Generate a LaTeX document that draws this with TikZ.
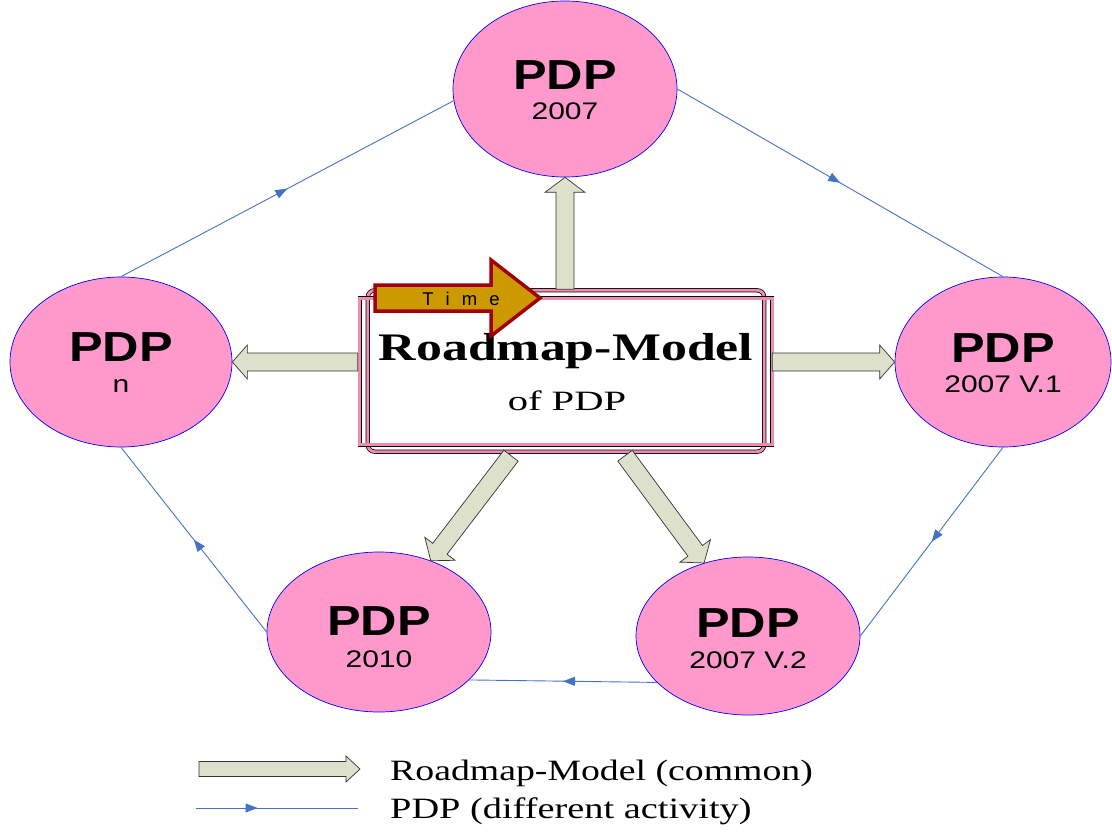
\documentclass[tikz,border=0pt]{standalone}
\usepackage{fontspec}
\setmainfont{Liberation Serif}
\setsansfont{Liberation Sans}
\usetikzlibrary{calc,arrows.meta,decorations.markings,shapes.geometric}
\definecolor{pdppink}{HTML}{FF99CC}
\definecolor{pdpblue}{HTML}{0000FF}
\definecolor{flowblue}{HTML}{4472C4}
\definecolor{blockfill}{HTML}{DDE0CA}
\definecolor{timefill}{HTML}{CC9900}
\definecolor{timedraw}{HTML}{A00000}
\definecolor{framepink}{HTML}{F08CB4}
% style, start, end, half body width, half head width, head length
\newcommand\blockarrow[6]{%
  \coordinate (bah) at ($(#3)!#6!(#2)$);
  \draw[#1] ($(#2)!#4!90:(#3)$) -- ($(bah)!#4!90:(#3)$) -- ($(bah)!#5!90:(#3)$)
     -- (#3) -- ($(bah)!#5!-90:(#3)$) -- ($(bah)!#4!-90:(#3)$)
     -- ($(#2)!#4!-90:(#3)$) -- cycle;}
\tikzset{
  pdp/.style={ellipse, fill=pdppink, draw=pdpblue, line width=0.7pt, inner sep=0pt},
  bigtxt/.style={anchor=base, inner sep=0pt, font=\sffamily\bfseries\fontsize{42}{42}\selectfont},
  smalltxt/.style={anchor=base, inner sep=0pt, font=\sffamily\fontsize{24}{24}\selectfont},
  flow/.style={draw=flowblue, color=flowblue, line width=0.9pt, postaction={decorate},
    decoration={markings, mark=at position #1 with {\arrow{Triangle[length=12pt,width=9pt]}}}},
  flow/.default=0.5,
  blk/.style={fill=blockfill, draw=black!80, line width=0.7pt, line join=miter},
  timearrow/.style={fill=timefill, draw=timedraw, line width=3.5pt, line join=miter},
  frame/.style={draw=black, line width=0.75pt, double=framepink, double distance=2.8pt},
  legendtxt/.style={anchor=base west, inner sep=0pt, font=\fontsize{29.5}{29.5}\selectfont}
}
\begin{document}
\begin{tikzpicture}[x=1pt,y=-1pt]
\useasboundingbox (0,0) rectangle (1112,832);
% ellipses
\node[pdp, minimum width=224pt, minimum height=176pt] (T) at (565,89) {};
\node[pdp, minimum width=222pt, minimum height=170pt] (L) at (121,362) {};
\node[pdp, minimum width=216pt, minimum height=170pt] (R) at (1003,362) {};
\node[pdp, minimum width=224pt, minimum height=160pt] (BL) at (379,632) {};
\node[pdp, minimum width=224pt, minimum height=158pt] (BR) at (748,636) {};
% ellipse texts
\node[bigtxt] (Tp) at ($(T.center)+(0,1)$) {\scalebox{1.2}[1]{PDP}};
\node[smalltxt] (Ts) at ($(T.center)+(0,31)$) {\scalebox{1.25}[1]{2007}};
\node[bigtxt] (Lp) at ($(L.center)+(0,-1)$) {\scalebox{1.2}[1]{PDP}};
\node[smalltxt] (Ls) at ($(L.center)+(0,30)$) {\scalebox{1.25}[1]{n}};
\node[bigtxt] (Rp) at ($(R.center)+(0,0)$) {\scalebox{1.2}[1]{PDP}};
\node[smalltxt] (Rs) at ($(R.center)+(0,30)$) {\scalebox{1.25}[1]{2007 V.1}};
\node[bigtxt] (BLp) at ($(BL.center)+(0,3)$) {\scalebox{1.2}[1]{PDP}};
\node[smalltxt] (BLs) at ($(BL.center)+(0,35)$) {\scalebox{1.25}[1]{2010}};
\node[bigtxt] (BRp) at ($(BR.center)+(0,1)$) {\scalebox{1.2}[1]{PDP}};
\node[smalltxt] (BRs) at ($(BR.center)+(0,32)$) {\scalebox{1.25}[1]{2007 V.2}};
% flow connectors
\draw[flow] (L.north) -- (T.186);
\draw[flow] (T.east) -- (R.north);
\draw[flow] (R.south) -- (BR.east);
\draw[flow] (BR.207) -- (BL.332);
\draw[flow] (BL.west) -- (L.south);
% central box
\node[minimum width=414pt, minimum height=165pt, inner sep=0pt] (box) at (565,372) {};
\draw[frame, rounded corners=7pt] ($(box.north west)+(10,1)$) rectangle ($(box.south east)+(-8,-3)$);
\draw[frame] ($(box.north west)+(2,9)$) rectangle ($(box.south east)+(0,-10)$);
\node[anchor=base, inner sep=0pt, font=\bfseries\fontsize{39}{39}\selectfont] (title) at (566,360) {\scalebox{1.33}[1]{Roadmap-Model}};
\node[anchor=base, inner sep=0pt, font=\fontsize{28}{28}\selectfont] (sub) at (567,410) {\scalebox{1.45}[1]{of PDP}};
% block arrows
\coordinate (lS) at (box.west |- L.east);
\coordinate (rS) at (box.east |- R.west);
\coordinate (dlS) at ($(box.south)+(-54,1)$);
\coordinate (dlE) at (BL.54);
\coordinate (drS) at ($(box.south)+(60,1)$);
\coordinate (drE) at (BR.121);
\blockarrow{blk}{box.north}{T.south}{9pt}{20pt}{15pt}
\blockarrow{blk}{lS}{L.east}{9pt}{17pt}{15pt}
\blockarrow{blk}{rS}{R.west}{9pt}{17pt}{15pt}
\blockarrow{blk}{dlS}{dlE}{9pt}{19pt}{15pt}
\blockarrow{blk}{drS}{drE}{9pt}{19pt}{15pt}
% time arrow
\coordinate (timeS) at (375,298);
\coordinate (timeE) at (540,298);
\blockarrow{timearrow}{timeS}{timeE}{13pt}{38pt}{49pt}
\node[inner sep=0pt, font=\sffamily\fontsize{18.5}{18.5}\selectfont] (time) at (461,299) {T\kern12pt i\kern12pt m\kern12pt e};
% legend
\coordinate (lg1S) at (199,769);
\coordinate (lg1E) at (360,769);
\blockarrow{blk}{lg1S}{lg1E}{7.5pt}{13pt}{14pt}
\coordinate (lg2S) at (196,808);
\coordinate (lg2E) at (358,808);
\draw[flow=0.38] (lg2S) -- (lg2E);
\node[legendtxt] (lt1) at (390,780) {\scalebox{1.28}[1]{Roadmap-Model (common)}};
\node[legendtxt] (lt2) at (390,818) {\scalebox{1.3}[1]{PDP (different activity)}};
\end{tikzpicture}
\end{document}
